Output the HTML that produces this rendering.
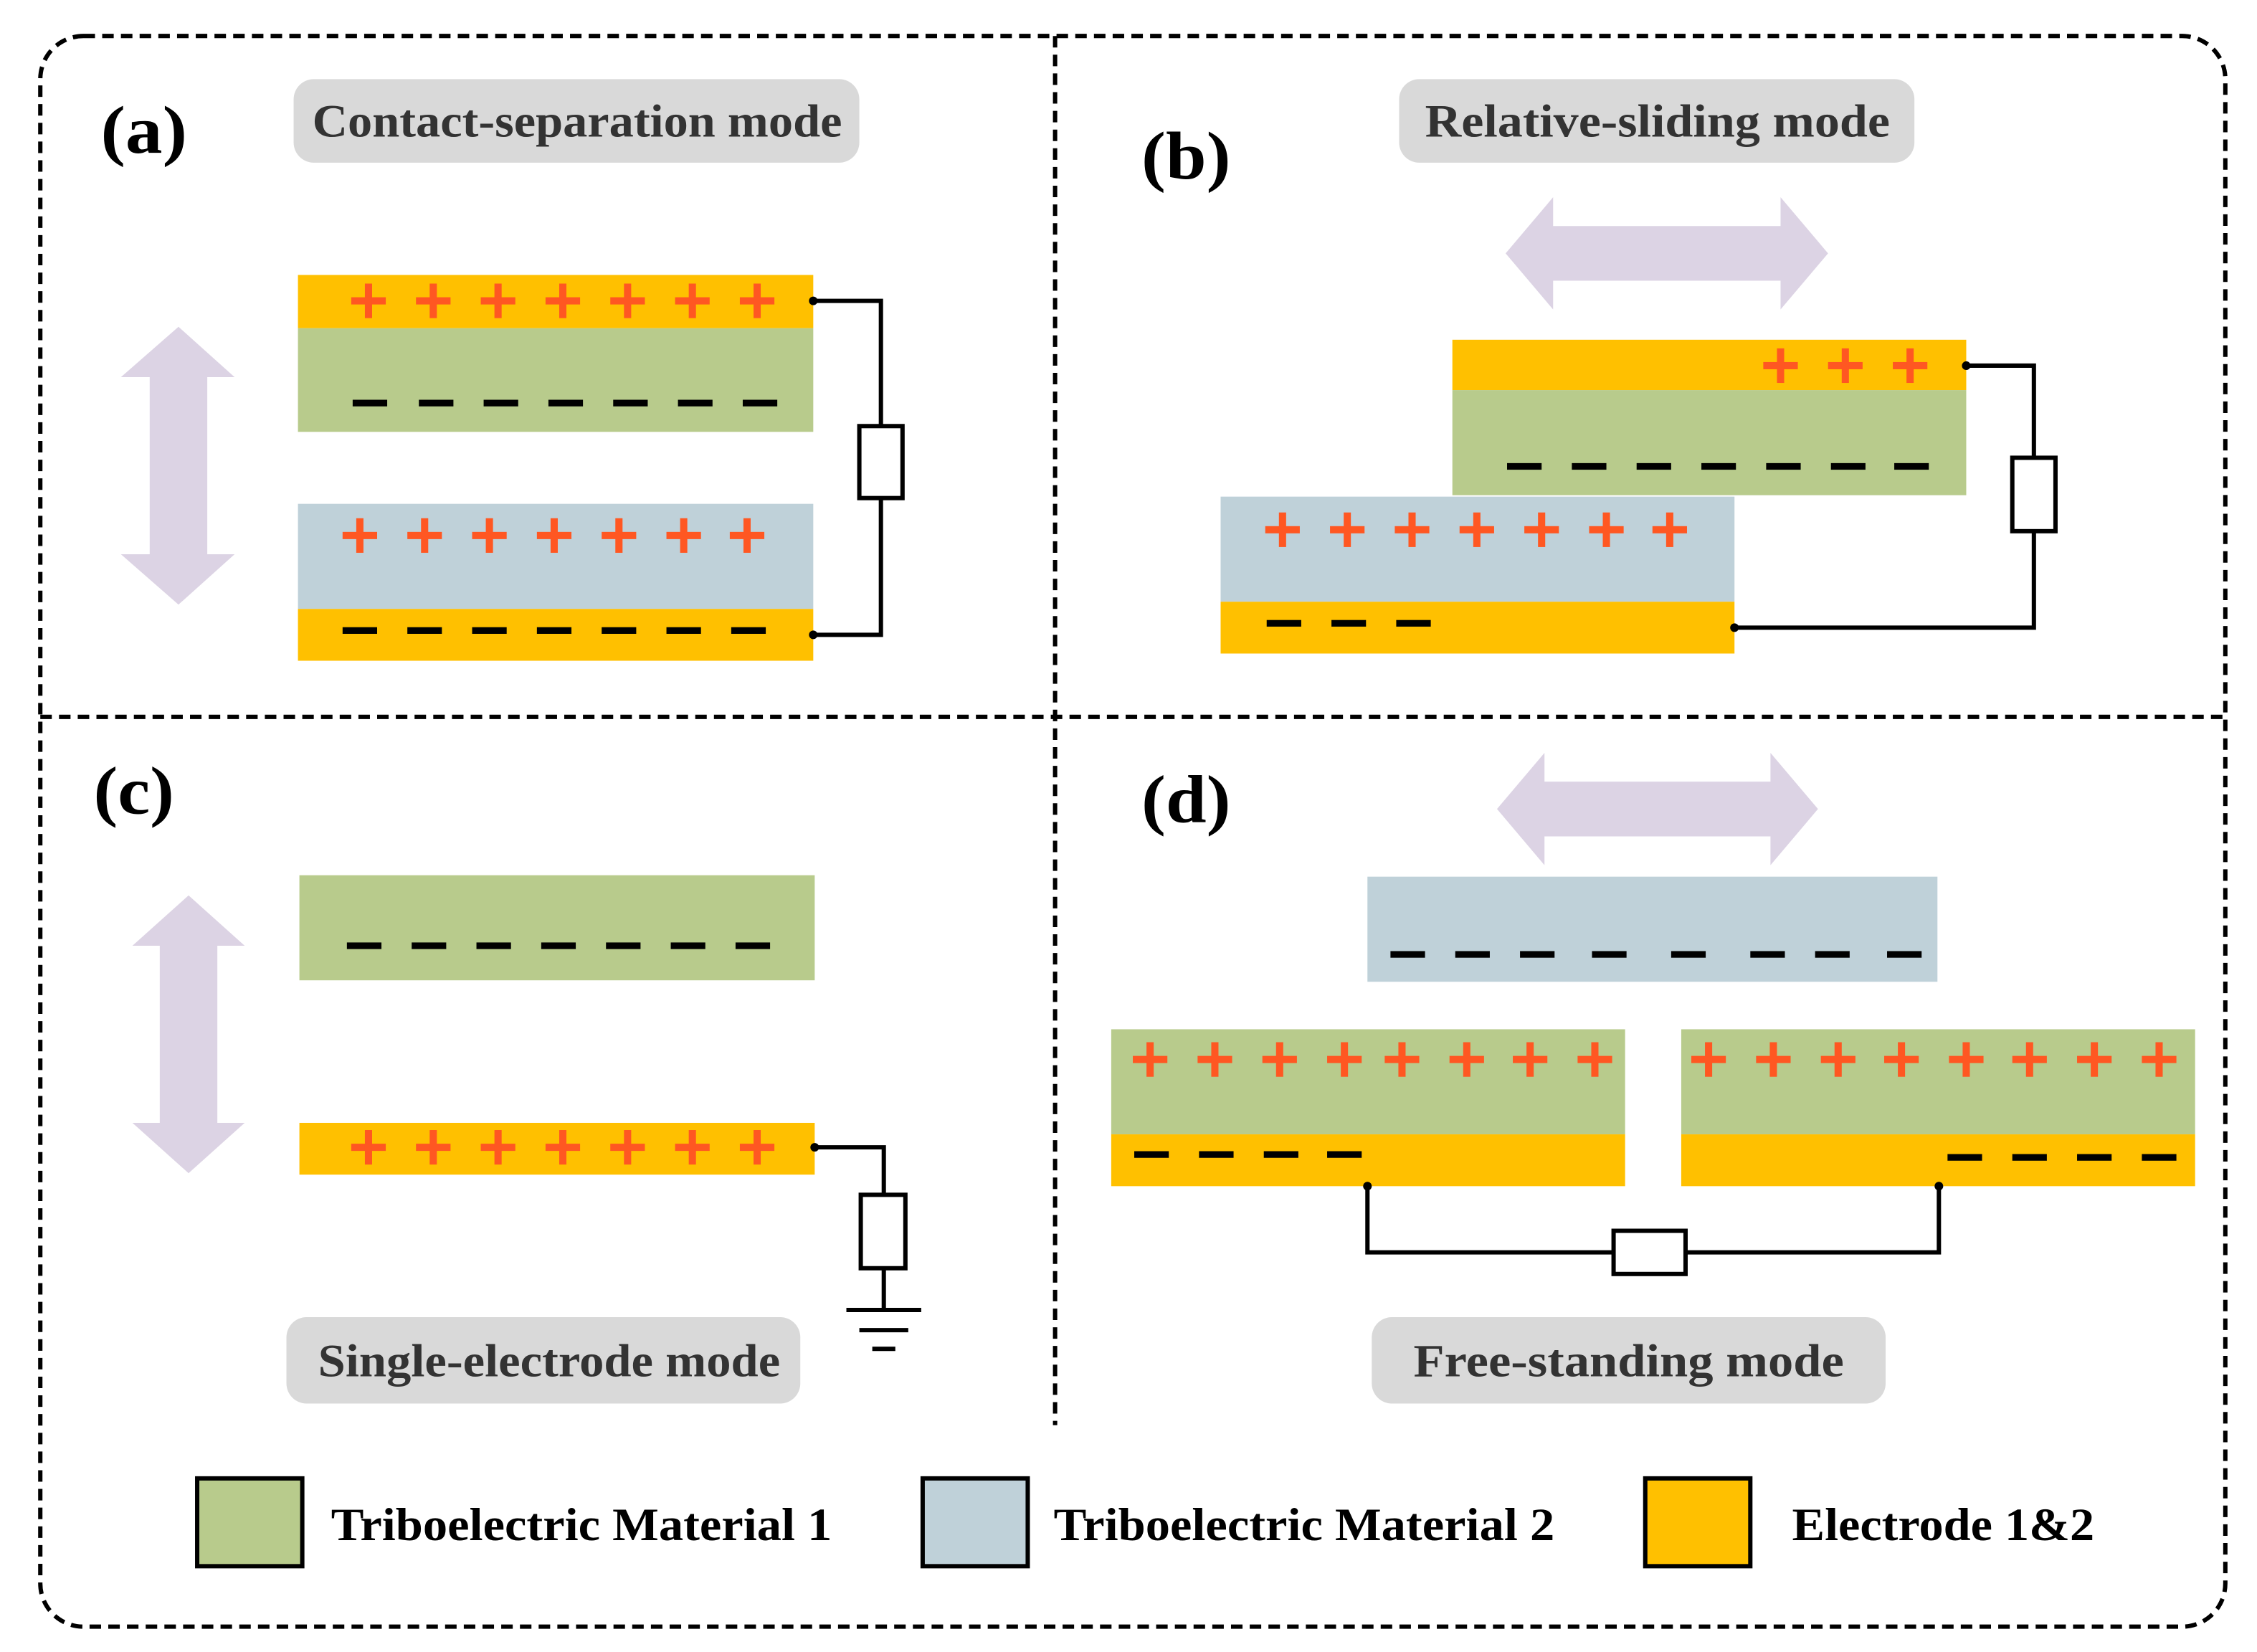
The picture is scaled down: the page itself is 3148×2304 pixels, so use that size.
<!DOCTYPE html>
<html><head><meta charset="utf-8"><style>html,body{margin:0;padding:0;background:#fff}svg{display:block}</style></head>
<body>
<svg width="3148" height="2304" viewBox="0 0 1568 1147.6" preserveAspectRatio="none" xmlns="http://www.w3.org/2000/svg" font-family="'Liberation Serif', serif" font-weight="bold">
<defs>
<g id="p"><rect x="-12" y="-2.5" width="24" height="5" fill="#ff5722"/><rect x="-2.5" y="-12" width="5" height="24" fill="#ff5722"/></g>
<g id="m"><rect x="-12" y="-2.3" width="24" height="4.6" fill="#000"/></g>
</defs>
<g fill="none" stroke="#000" stroke-width="3" stroke-dasharray="8 5">
<rect x="28" y="25" width="1518" height="1105" rx="30"/>
<line x1="733" y1="25" x2="733" y2="990"/>
<line x1="28" y1="498" x2="1546" y2="498"/>
</g>
<g font-size="47" fill="#000" lengthAdjust="spacingAndGlyphs">
<text x="70" y="106" textLength="60" lengthAdjust="spacingAndGlyphs">(a)</text><text x="793" y="124" textLength="62" lengthAdjust="spacingAndGlyphs">(b)</text><text x="65" y="565" textLength="56" lengthAdjust="spacingAndGlyphs">(c)</text><text x="793" y="571" textLength="62" lengthAdjust="spacingAndGlyphs">(d)</text>
</g>
<g fill="#d9d9d9">
<rect x="204" y="55" width="393" height="58" rx="14"/>
<rect x="972" y="55" width="358" height="58" rx="14"/>
<rect x="199" y="915" width="357" height="60" rx="14"/>
<rect x="953" y="915" width="357" height="60" rx="14"/>
</g>
<g font-size="32" fill="#333">
<text x="217" y="95" textLength="368" lengthAdjust="spacingAndGlyphs">Contact-separation mode</text>
<text x="990" y="95" textLength="323" lengthAdjust="spacingAndGlyphs">Relative-sliding  mode</text>
<text x="221" y="956" textLength="321" lengthAdjust="spacingAndGlyphs">Single-electrode mode</text>
<text x="982" y="956" textLength="299" lengthAdjust="spacingAndGlyphs">Free-standing  mode</text>
</g>
<g fill="#dcd3e4">
<polygon points="124,227 163,262 144,262 144,385 163,385 124,420 84,385 104,385 104,262 84,262"/>
<polygon points="131,622 170,657 151,657 151,780 170,780 131,815 92,780 111,780 111,657 92,657"/>
<polygon points="1046,176 1079,137 1079,157 1237,157 1237,137 1270,176 1237,215 1237,195 1079,195 1079,215"/>
<polygon points="1040,562 1073,523 1073,543 1230,543 1230,523 1263,562 1230,601 1230,581 1073,581 1073,601"/>
</g>
<rect x="207" y="191" width="358" height="37" fill="#ffc000"/>
<rect x="207" y="228" width="358" height="72" fill="#b8cb8c"/>
<rect x="207" y="350" width="358" height="73" fill="#bfd1d9"/>
<rect x="207" y="423" width="358" height="36" fill="#ffc000"/>
<rect x="1009" y="236" width="357" height="35" fill="#ffc000"/>
<rect x="1009" y="271" width="357" height="73" fill="#b8cb8c"/>
<rect x="848" y="345" width="357" height="73" fill="#bfd1d9"/>
<rect x="848" y="418" width="357" height="36" fill="#ffc000"/>
<rect x="208" y="608" width="358" height="73" fill="#b8cb8c"/>
<rect x="208" y="780" width="358" height="36" fill="#ffc000"/>
<rect x="950" y="609" width="396" height="73" fill="#bfd1d9"/>
<rect x="772" y="715" width="357" height="73" fill="#b8cb8c"/>
<rect x="772" y="788" width="357" height="36" fill="#ffc000"/>
<rect x="1168" y="715" width="357" height="73" fill="#b8cb8c"/>
<rect x="1168" y="788" width="357" height="36" fill="#ffc000"/>
<use href="#p" x="256" y="209"/><use href="#p" x="301" y="209"/><use href="#p" x="346" y="209"/><use href="#p" x="391" y="209"/><use href="#p" x="436" y="209"/><use href="#p" x="481" y="209"/><use href="#p" x="526" y="209"/>
<use href="#m" x="257" y="280"/><use href="#m" x="303" y="280"/><use href="#m" x="348" y="280"/><use href="#m" x="393" y="280"/><use href="#m" x="438" y="280"/><use href="#m" x="483" y="280"/><use href="#m" x="528" y="280"/>
<use href="#p" x="250" y="372"/><use href="#p" x="295" y="372"/><use href="#p" x="340" y="372"/><use href="#p" x="385" y="372"/><use href="#p" x="430" y="372"/><use href="#p" x="475" y="372"/><use href="#p" x="519" y="372"/>
<use href="#m" x="250" y="438"/><use href="#m" x="295" y="438"/><use href="#m" x="340" y="438"/><use href="#m" x="385" y="438"/><use href="#m" x="430" y="438"/><use href="#m" x="475" y="438"/><use href="#m" x="520" y="438"/>
<use href="#p" x="1237" y="254"/><use href="#p" x="1282" y="254"/><use href="#p" x="1327" y="254"/>
<use href="#m" x="1059" y="324"/><use href="#m" x="1104" y="324"/><use href="#m" x="1149" y="324"/><use href="#m" x="1194" y="324"/><use href="#m" x="1239" y="324"/><use href="#m" x="1284" y="324"/><use href="#m" x="1328" y="324"/>
<use href="#p" x="891" y="368"/><use href="#p" x="936" y="368"/><use href="#p" x="981" y="368"/><use href="#p" x="1026" y="368"/><use href="#p" x="1071" y="368"/><use href="#p" x="1116" y="368"/><use href="#p" x="1160" y="368"/>
<use href="#m" x="892" y="433"/><use href="#m" x="937" y="433"/><use href="#m" x="982" y="433"/>
<use href="#m" x="253" y="657"/><use href="#m" x="298" y="657"/><use href="#m" x="343" y="657"/><use href="#m" x="388" y="657"/><use href="#m" x="433" y="657"/><use href="#m" x="478" y="657"/><use href="#m" x="523" y="657"/>
<use href="#p" x="256" y="797"/><use href="#p" x="301" y="797"/><use href="#p" x="346" y="797"/><use href="#p" x="391" y="797"/><use href="#p" x="436" y="797"/><use href="#p" x="481" y="797"/><use href="#p" x="526" y="797"/>
<use href="#m" x="978" y="663"/><use href="#m" x="1023" y="663"/><use href="#m" x="1068" y="663"/><use href="#m" x="1118" y="663"/><use href="#m" x="1173" y="663"/><use href="#m" x="1228" y="663"/><use href="#m" x="1273" y="663"/><use href="#m" x="1323" y="663"/>
<use href="#p" x="799" y="736"/><use href="#p" x="844" y="736"/><use href="#p" x="889" y="736"/><use href="#p" x="934" y="736"/><use href="#p" x="974" y="736"/><use href="#p" x="1019" y="736"/><use href="#p" x="1063" y="736"/><use href="#p" x="1108" y="736"/>
<use href="#p" x="1187" y="736"/><use href="#p" x="1232" y="736"/><use href="#p" x="1277" y="736"/><use href="#p" x="1321" y="736"/><use href="#p" x="1366" y="736"/><use href="#p" x="1410" y="736"/><use href="#p" x="1455" y="736"/><use href="#p" x="1500" y="736"/>
<use href="#m" x="800" y="802"/><use href="#m" x="845" y="802"/><use href="#m" x="890" y="802"/><use href="#m" x="934" y="802"/>
<use href="#m" x="1365" y="804"/><use href="#m" x="1410" y="804"/><use href="#m" x="1455" y="804"/><use href="#m" x="1500" y="804"/>
<g fill="none" stroke="#000" stroke-width="3">
<polyline points="565,209 612,209 612,296"/><rect x="597" y="296" width="30" height="50" fill="#fff"/><polyline points="612,346 612,441 565,441"/>
<polyline points="1366,254 1413,254 1413,318"/><rect x="1398" y="318" width="30" height="51" fill="#fff"/><polyline points="1413,369 1413,436 1205,436"/>
<polyline points="566,797 614,797 614,830"/><rect x="598" y="830" width="31" height="51" fill="#fff"/><line x1="614" y1="881" x2="614" y2="910"/>
<line x1="588" y1="910" x2="640" y2="910"/><line x1="597" y1="924" x2="631" y2="924"/><line x1="606" y1="937" x2="622" y2="937"/>
<polyline points="950,824 950,870 1121,870"/><rect x="1121" y="855" width="50" height="30" fill="#fff"/><polyline points="1171,870 1347,870 1347,824"/>
</g>
<g fill="#000"><circle cx="565" cy="209" r="3"/><circle cx="565" cy="441" r="3"/><circle cx="1366" cy="254" r="3"/><circle cx="1205" cy="436" r="3"/><circle cx="566" cy="797" r="3"/><circle cx="950" cy="824" r="3"/><circle cx="1347" cy="824" r="3"/></g>
<g stroke="#000" stroke-width="3">
<rect x="137" y="1027" width="73" height="61" fill="#b8cb8c"/>
<rect x="641" y="1027" width="73" height="61" fill="#bfd1d9"/>
<rect x="1143" y="1027" width="73" height="61" fill="#ffc000"/>
</g>
<g font-size="32" fill="#000">
<text x="230" y="1070" textLength="348" lengthAdjust="spacingAndGlyphs">Triboelectric Material 1</text>
<text x="732" y="1070" textLength="348" lengthAdjust="spacingAndGlyphs">Triboelectric Material 2</text>
<text x="1245" y="1070" textLength="210" lengthAdjust="spacingAndGlyphs">Electrode 1&amp;2</text>
</g>
</svg>
</body></html>
